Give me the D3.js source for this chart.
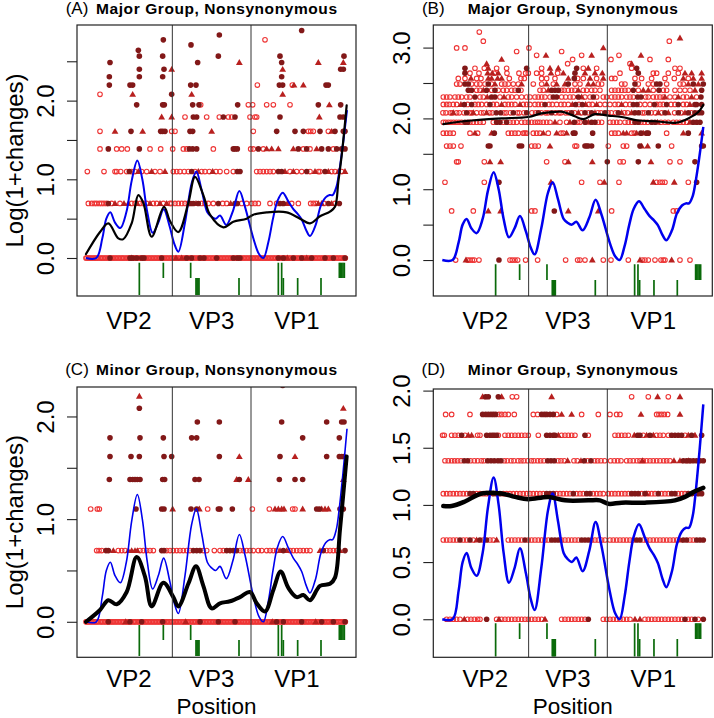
<!DOCTYPE html>
<html><head><meta charset="utf-8">
<script src="https://cdn.jsdelivr.net/npm/d3@7"></script>
<style>body{margin:0;background:#fff}svg{display:block}text{font-family:"Liberation Sans",Arial,Helvetica,sans-serif}</style>
</head><body><svg id="c" width="714" height="718"></svg>
<script>
// ---------------- data ----------------
const xDomain = [-26, 811];
const regionBreaks = [260, 496];
const regionLabels = ["VP2", "VP3", "VP1"];
const regionLabelPos = [130, 378, 634];

// site markers (green ticks under the zero line)
const siteTicksUpper = [161, 233, 315, 578, 588, 761, 764, 768, 772, 776];
const siteTicksLower = [161, 331, 334, 337, 340, 460, 578, 588, 593, 636, 706];

// blue reference curve (same in all panels)
const blueCurve = [[1,0],[32,0],[50,0.25],[62,0.5],[74,0.58],[88,0.45],[104,0.38],[122,0.58],[138,0.98],[155,1.24],[170,1.0],[185,0.58],[201,0.32],[218,0.45],[234,0.62],[252,0.4],[266,0.18],[278,0.08],[298,0.45],[318,0.95],[332,1.1],[348,0.86],[365,0.58],[376,0.53],[390,0.5],[403,0.54],[422,0.42],[442,0.6],[461,0.85],[478,0.65],[503,0.25],[520,0.05],[533,0],[548,0.2],[562,0.5],[575,0.72],[591,0.83],[608,0.72],[623,0.62],[636,0.56],[648,0.49],[662,0.35],[673,0.28],[690,0.42],[705,0.66],[720,0.77],[732,0.8],[741,0.8],[752,0.9],[760,1.08],[772,1.45],[784,1.88]];

// black smoothed curves per panel
const blackA = [[1,0.05],[43,0.33],[68,0.44],[98,0.25],[113,0.24],[138,0.44],[158,0.8],[173,0.7],[198,0.27],[235,0.65],[253,0.47],[278,0.33],[308,0.7],[328,1.03],[353,0.8],[373,0.55],[413,0.39],[443,0.46],[483,0.5],[503,0.55],[543,0.58],[603,0.58],[643,0.5],[673,0.44],[703,0.53],[733,0.59],[748,0.65],[758,0.97],[768,1.3],[783,1.94]];
const blackB = [[4,1.92],[89,1.97],[179,2.0],[259,2.02],[299,2.07],[359,2.095],[389,2.05],[424,1.99],[459,2.06],[499,2.04],[539,2.02],[589,1.97],[639,1.96],[704,1.94],[739,2.0],[769,2.09],[784,2.19]];
const blackC = [[1,0],[43,0.115],[68,0.21],[93,0.17],[123,0.29],[153,0.63],[178,0.44],[198,0.15],[233,0.38],[263,0.24],[278,0.15],[308,0.37],[331,0.54],[353,0.35],[378,0.13],[403,0.18],[433,0.2],[463,0.24],[493,0.29],[513,0.18],[538,0.1],[563,0.31],[585,0.49],[608,0.33],[633,0.24],[653,0.26],[673,0.21],[703,0.35],[733,0.37],[748,0.43],[763,0.9],[783,1.61]];
const blackD = [[4,0.99],[29,0.99],[69,1.03],[119,1.10],[179,1.10],[219,1.07],[259,1.05],[319,1.07],[369,1.04],[439,1.04],[474,1.04],[499,1.01],[539,1.02],[609,1.02],[699,1.04],[729,1.07],[759,1.12],[784,1.15]];

// dense zero row (nonsynonymous panels)
const zeroNonsynOpen = [1,4,9,13,17,22,26,31,34,39,44,48,52,57,61,66,70,75,79,83,88,92,97,101,106,110,114,119,124,128,132,137,142,146,150,155,160,164,169,173,178,182,187,191,196,200,205,209,214,218,223,227,232,236,241,245,250,254,259,263,268,272,277,281,286,290,295,299,304,308,313,317,322,326,331,336,340,345,349,354,358,363,367,372,376,381,385,390,394,399,404,408,413,417,422,426,431,435,440,444,449,453,458,462,467,472,476,481,485,490,494,499,503,508,512,517,521,526,530,535,539,544,548,553,557,562,566,571,576,580,585,589,594,598,603,607,612,616,621,625,630,634,639,643,648,652,657,661,666,670,675,680,684,689,693,698,702,707,711,716,720,725,729,734,738,743,747,752,756,761,765,770,774,779];

// points: [number of changes, [positions]]
const majNonsynOpen = [[0, zeroNonsynOpen],
 [1,[8,18,26,33,41,48,55,63,78,103,138,148,163,173,183,203,213,233,253,258,268,278,288,298,308,348,358,368,383,411,423,468,483,498,508,518,553,573,618,638,675,683,691,715,748]],
 [2,[5,55,88,93,105,123,138,148,168,183,208,223,263,273,283,296,308,328,348,358,371,391,403,423,443,513,523,533,543,553,563,613,633,648,673,698,703,738,748,768]],
 [3,[43,93,108,125,193,225,261,293,303,383,495,503,533,653,673,743]],
 [4,[43,258,268,503,668,675,683,728]],
 [5,[298,363,401,428,438,493,508,513]],
 [6,[345,488,501,543,563,613]],
 [7,[43]],[8,[515,620]],[15,[538]]];
const majNonsynFilled = [[0,[73,133,141,153,168,175,228,303,318,343,355,393,443,455,463,578,593,623,648,678,718,743,778]],
 [1,[68,315,323,338,398,448,455,583,593,728,761]],
 [2,[131,318,455,463,578,588,663,718]],
 [3,[68,161,311,321,333,443,448,455,518,638,663,708,728,753,768,778]],
 [4,[136,225,231,238,313,321,573,628,653,703,748,773,778]],
 [5,[323,333,413,448,583,763,773]],
 [6,[153,231,236,321,340,456,698,765]],
 [7,[258]],[8,[71,133,141,315,331,581,591,721,728]],[9,[71,161,231,588]],
 [10,[161,235,765,773]],[11,[73,336,588]],[12,[161,231,398,583,775]],
 [13,[158]],[14,[316]],[15,[233]],[16,[401]],[17,[648]]];
const majNonsynTri = [[0,[138,271,288,605,663]],
 [1,[88,115,128,155,193,223,243,331,435,605,698,708,738]],
 [2,[158,198,238,338,381,598,623,688,728,758,778]],
 [3,[543,558,578,623,693]],[4,[88,171,378,738]],[5,[228,258,701]],[6,[731]],
 [7,[141,318,591]],[8,[625,653]],[10,[258,591]],[11,[461,698,773]]];

const majSynOpen = [
 [0,[41,77,84,91,97,111,204,211,219,227,251,287,371,407,414,429,484,507,559,601,609,619,639,657,664,669,714,744]],
 [1,[29,94,269,279,509,694,704]],
 [2,[9,127,419,474,531,644,654,661,669,739]],
 [3,[44,49,127,314,369,534,544,684,714]],
 [4,[14,24,34,57,269,279,289,399,404,499,544,554,689]],
 [5,[4,14,24,34,84,107,199,209,219,229,244,249,254,274,284,294,319,357,364,509,519,529,569,577,674]],
 [6,[4,11,19,27,35,43,51,59,84,94,104,114,124,154,184,204,214,224,239,249,259,269,279,287,294,304,314,324,354,374,407,414,469,479,504,514,524,534,549,559,569,597,607,617,657,669,679,694,704,714,724,734]],
 [7,[3,12,25,31,44,52,66,83,90,104,117,125,143,151,186,193,205,226,232,246,270,281,298,311,318,340,351,357,371,380,398,418,440,468,477,498,508,521,548,557,601,608,628,640,659,698,717,748]],
 [8,[4,14,22,34,44,77,99,109,119,134,154,164,189,199,209,219,244,254,264,279,289,299,321,331,344,357,367,379,411,441,451,474,489,504,519,529,551,564,594,609,624,644,654,664,687,699,724,734]],
 [9,[4,14,24,39,49,59,74,84,114,124,174,199,209,224,239,254,264,279,289,299,309,324,359,371,384,394,429,444,464,484,494,509,519,529,539,554,564,574,611,619,634,644,654,664,684,699,724,734,764]],
 [10,[104,114,149,169,184,194,209,219,237,294,304,359,367,379,389,399,424,434,449,459,474,509,519,529,539,549,559,589,634,664,674,699,714,729,744]],
 [11,[44,54,89,104,114,129,149,179,189,199,214,229,274,299,334,399,414,469,479,539,549,589,619,634,674,714,724]],
 [12,[49,69,104,117,202,237,247,299,314,339,407,424,464,509,519,579,599,629,669,697,739]],
 [13,[84,111,157,195,231,251,259,284,299,347,534,634,644,679,709]],
 [14,[99,127,164,194,299,424,464,569,699,714]],
 [15,[377,564]],[16,[392,507,624,679]],[17,[284,419,531]],[18,[224,359]],
 [19,[44,69,261]],[21,[124,682]],[24,[112]]];
const majSynFilled = [[0,[171]],[1,[337]],[2,[171,764]],[3,[496,589,759]],
 [4,[139,144,232,239,429,434,439,449,594,649,779,784]],
 [5,[157,394,399,452,597,614,619,739]],
 [6,[69,77,164,174,194,397,429,449,459,579,589,629,639,754,764,774]],
 [7,[74,163,176,214,254,289,329,389,429,449,489,529,579,590,619,669,709,739,759,770,779]],
 [8,[67,89,144,309,401,421,574,585,637,674,709,759,764,779]],
 [9,[99,149,159,334,344,409,454,587,597,777]],
 [10,[79,89,134,159,229,329,339,349,574,651,779]],
 [11,[69,79,139,379,579,644,654,754,784]],
 [12,[397]],[13,[69,399,589]],[14,[69,254,404,584]]];
const majSynTri = [[0,[72,451,594,689]],[1,[139,176,379,469]],[2,[327,487,634,697]],
 [3,[144,176,379,451,627]],[4,[324,599,617]],
 [5,[99,149,304,344,374,544,554,584,604,724,779]],
 [6,[339,384,439,647,744]],
 [7,[34,94,134,409,459,539,569,649,679,729]],
 [8,[57,179,234,391,431,464,539,744]],
 [9,[136,186,419,669,709,749]],
 [10,[124,319,409,604,619,759]],
 [11,[159,239,314,344,369,439,454,739,769]],
 [12,[87,139,149,167,179,379,444,484,724,754,779]],
 [13,[137,151,169,327,364,429,459,481,729,749,779]],
 [14,[139,324,349,439]],[15,[134,569]],[16,[179]],[17,[312,449,597]],
 [19,[484]],[22,[714]]];

const minNonsynOpen = [[0, zeroNonsynOpen],
 [1,[33,40,48,98,108,118,163,173,183,193,203,243,253,263,273,283,293,303,313,353,363,386,403,413,463,473,483,493,503,518,528,543,553,563,573,613,623,633,643,653,663,673,723,733,743,753]],
 [2,[15,35,41,366,500,551,621,628]]];
const minNonsynFilled = [[0,[68,133,168,231,343,398,448,573,593,648,708,743,778]],
 [1,[61,68,228,235,323,333,343,423,433,443,453,593,713,778]],
 [2,[151,228,235,316,333,398,403,440,693,701,763,773]],
 [3,[71,133,141,148,155,163,231,237,328,340,461,581,628,651]],
 [4,[73,136,161,235,258,401,583,723,761,768,775]],
 [5,[73,163,233,318,333,651,761]],
 [6,[335,401,588,723,768,775]],
 [7,[161]],[9,[591]]];
const minNonsynTri = [[0,[120,300,560,690]],
 [1,[83,128,138,148,155,583,603,703,763]],
 [2,[261,341,568,578,588,595,651,708,718,728]],
 [3,[453,488,773]],[4,[461,628]],[7,[773]],[8,[161]]];

const minSynOpen = [
 [0,[14,24,34,44,54,77,87,97,107,114,164,179,189,199,209,219,229,239,249,259,269,279,289,299,359,369,379,389,399,409,419,429,484,494,504,514,524,534,544,554,564,609,619,629,639,649,659,669,679,689,699,709,719,739,749,769]],
 [1,[4,14,24,34,44,64,74,94,124,144,154,199,209,219,229,239,259,269,279,289,299,309,319,359,369,379,389,399,409,449,459,469,479,489,504,514,524,534,544,554,564,574,604,614,624,634,644,654,664,674,684,694,704,744,754]],
 [2,[4,14,24,34,44,54,64,74,104,114,124,134,184,194,204,214,224,234,244,254,264,274,284,294,304,344,354,364,374,384,404,414,424,454,464,474,484,499,509,519,529,539,549,559,599,619,629,639,659,669,679,709,719,729]],
 [3,[9,19,29,38,47,57,86,97,107,118,126,187,196,207,216,228,237,246,257,268,276,287,296,306,348,357,367,396,406,437,458,467,477,488,506,517,527,537,554,564,574,585,594,604,614,624,634,644,654,665,674,684]],
 [4,[2,7,29,39,49,69,107,114,169,189,199,209,219,229,239,249,259,289,359,369,379,389,399,439,519,529,539,549,559,604,644,654,664,679,729]],
 [5,[11,29,84,171,179,189,199,217,274,287,344,419,469,504,524,534,644,651,659,667,677]],
 [6,[211,224,569,619,679]]];
const minSynFilled = [[0,[134,439,729,759,784]],
 [1,[54,84,114,134,249,329,339,349,419,429,439,584,594,724,734,764,774,784]],
 [2,[84,94,154,164,174,314,324,334,394,434,444,569,579,589,609,649,689,699,739,749,769,779]],
 [3,[67,77,137,147,157,168,177,317,327,337,427,447,724,734,744,754,764,774,784]],
 [4,[59,134,144,151,157,164,314,324,334,339,429,587,594,624,689,699,709,719,749,779]],
 [5,[122,131,139,147,154,161,299,307,314,324,334]],
 [6,[131,139,169]]];
const minSynTri = [[0,[67,171,309,579,594]],[1,[104,164,714]],[2,[144,614,759]],
 [3,[377,417,601,696,714,739]],[4,[79,89,349,577,614,634,739,759]],
 [5,[359,389,597,714]],[6,[122,179,329,647,714]]];

// ---------------- layout ----------------
const panels = [
 {tag:"(A)", title:"Major Group, Nonsynonymous", box:[77,356,25,296], yDom:[-0.483,2.961], yTicks:[0,0.5,1,1.5,2,2.5], yLab:[0,1,2], tiers:[-0.06,-0.254,-0.47], blueW:2, blackW:2.2, ylab:true, xlab:false, vpOff:33, tw:241, ty:13.5, open:majNonsynOpen, filled:majNonsynFilled, tri:majNonsynTri, black:blackA},
 {tag:"(B)", title:"Major Group, Synonymous", box:[433.3,712.3,25,296], yDom:[-0.508,3.319], yTicks:[0,0.5,1,1.5,2,2.5,3], yLab:[0,1,2,3], tiers:[-0.061,-0.282,-0.504], blueW:2.5, blackW:2.2, ylab:false, xlab:false, vpOff:33, tw:210, ty:13.5, open:majSynOpen, filled:majSynFilled, tri:majSynTri, black:blackB},
 {tag:"(C)", title:"Minor Group, Nonsynonymous", box:[77,356,387,657.3], yDom:[-0.346,2.287], yTicks:[0,0.5,1,1.5,2], yLab:[0,1,2], tiers:[-0.031,-0.177,-0.333], blueW:1.6, blackW:4, ylab:true, xlab:true, vpOff:30, tw:241, ty:375, open:minNonsynOpen, filled:minNonsynFilled, tri:minNonsynTri, black:blackC},
 {tag:"(D)", title:"Minor Group, Synonymous", box:[433.3,712.3,389,657.3], yDom:[-0.333,2.014], yTicks:[0,0.5,1,1.5,2], yLab:[0,0.5,1,1.5,2], tiers:[-0.035,-0.172,-0.327], blueW:2.5, blackW:4.5, ylab:false, xlab:true, vpOff:30, tw:210, ty:375, open:minSynOpen, filled:minSynFilled, tri:minSynTri, black:blackD}
];

const COL_OPEN = "#ee3535", COL_FILL = "#821818", COL_TRI = "#b8201f", COL_TICK = "#0a6a0a";
const svg = d3.select("#c");

panels.forEach((p, i) => {
  const [L, R, T, B] = p.box;
  const x = d3.scaleLinear().domain(xDomain).range([L, R]);
  const y = d3.scaleLinear().domain(p.yDom).range([B, T]);
  const g = svg.append("g");
  const cid = "clip" + i;
  g.append("clipPath").attr("id", cid).append("rect").attr("x", L).attr("y", T).attr("width", R - L).attr("height", B - T);
  const plot = g.append("g").attr("clip-path", `url(#${cid})`);

  const flat = rows => rows.flatMap(([k, arr]) => arr.map(pos => ({pos, v: Math.log1p(k)})));

  // site ticks
  plot.selectAll(".tu").data(siteTicksUpper).join("line")
    .attr("x1", d => x(d)).attr("x2", d => x(d)).attr("y1", y(p.tiers[0])).attr("y2", y(p.tiers[1]))
    .attr("stroke", COL_TICK).attr("stroke-width", 1.7);
  plot.selectAll(".tl").data(siteTicksLower).join("line")
    .attr("x1", d => x(d)).attr("x2", d => x(d)).attr("y1", y(p.tiers[1])).attr("y2", y(p.tiers[2]))
    .attr("stroke", COL_TICK).attr("stroke-width", 1.7);

  // points
  plot.append("g").selectAll("circle").data(flat(p.open)).join("circle")
    .attr("cx", d => x(d.pos)).attr("cy", d => y(d.v)).attr("r", 2.3)
    .attr("fill", "none").attr("stroke", COL_OPEN).attr("stroke-width", 1.1);
  const tri = d3.symbol().type(d3.symbolTriangle).size(20);
  plot.append("g").selectAll("path").data(flat(p.tri)).join("path")
    .attr("d", tri).attr("transform", d => `translate(${x(d.pos)},${y(d.v) + 0.5})`).attr("fill", COL_TRI);
  plot.append("g").selectAll("circle").data(flat(p.filled)).join("circle")
    .attr("cx", d => x(d.pos)).attr("cy", d => y(d.v)).attr("r", 2.8).attr("fill", COL_FILL);

  // curves
  const line = d3.line().x(d => x(d[0])).y(d => y(d[1])).curve(d3.curveCatmullRom.alpha(0.5));
  plot.append("path").datum(blueCurve).attr("d", line).attr("fill", "none").attr("stroke", "#0000ee")
    .attr("stroke-width", p.blueW).attr("stroke-linejoin", "round");
  plot.append("path").datum(p.black).attr("d", line).attr("fill", "none").attr("stroke", "#000")
    .attr("stroke-width", p.blackW).attr("stroke-linejoin", "round").attr("stroke-linecap", "round");

  // region dividers
  g.selectAll(".div").data(regionBreaks).join("line")
    .attr("x1", d => x(d)).attr("x2", d => x(d)).attr("y1", T).attr("y2", B)
    .attr("stroke", "#333").attr("stroke-width", 1);

  // box
  g.append("rect").attr("x", L).attr("y", T).attr("width", R - L).attr("height", B - T)
    .attr("fill", "none").attr("stroke", "#222").attr("stroke-width", 1.2);

  // y axis
  const ax = g.append("g").attr("transform", `translate(${L},0)`)
    .call(d3.axisLeft(y).tickValues(p.yTicks).tickSize(10)
      .tickFormat(d => p.yLab.includes(d) ? d.toFixed(1) : ""));
  ax.select(".domain").remove();
  ax.selectAll(".tick line").attr("stroke", "#222").attr("stroke-width", 1.1);
  ax.selectAll(".tick text").attr("transform", "rotate(-90)").attr("x", 0).attr("y", -23).attr("dy", 0)
    .attr("text-anchor", "middle").attr("font-size", 24).attr("fill", "#000")
    .attr("font-family", '"Liberation Sans", Arial, sans-serif');

  // region labels
  g.selectAll(".rl").data(regionLabels).join("text")
    .attr("x", (d, j) => x(regionLabelPos[j])).attr("y", B + p.vpOff)
    .attr("text-anchor", "middle").attr("font-size", 24).text(d => d);

  // titles
  g.append("text").attr("x", L).attr("y", p.ty).attr("text-anchor", "middle").attr("font-size", 17).text(p.tag);
  g.append("text").attr("x", (L + R) / 2).attr("y", p.ty).attr("text-anchor", "middle")
    .attr("font-size", 15.5).attr("font-weight", "bold")
    .attr("textLength", p.tw).attr("lengthAdjust", "spacing").text(p.title);

  if (p.ylab) {
    g.append("text").attr("transform", `translate(23,${(T + B) / 2}) rotate(-90)`)
      .attr("text-anchor", "middle").attr("font-size", 24).text("Log(1+changes)");
  }
  if (p.xlab) {
    g.append("text").attr("x", (L + R) / 2).attr("y", 713.5).attr("text-anchor", "middle")
      .attr("font-size", 22.5).text("Position");
  }
});
</script></body></html>
